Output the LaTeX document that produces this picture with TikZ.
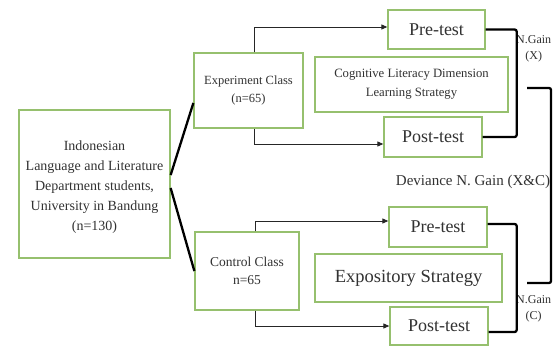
\documentclass[tikz,border=0pt]{standalone}
\usepackage{fontspec}
\setmainfont{Liberation Serif}
\usetikzlibrary{arrows.meta}
\definecolor{boxgreen}{RGB}{150,192,110}
\definecolor{txt}{RGB}{50,50,50}
\tikzset{
  gbox/.style={draw=boxgreen, line width=1.3pt, fill=white, text=txt, align=center, inner sep=0pt},
  arr/.style={draw=black!85, line width=0.9pt, -{Triangle[length=6pt,width=5pt]}},
  link/.style={draw=black!90, line width=1.1pt},
  heavy/.style={draw=black, line width=2.3pt},
  brack/.style={draw=black, line width=2.3pt, rounded corners=2pt},
  lbl/.style={text=txt, align=center, inner sep=0pt}
}
\begin{document}
\begin{tikzpicture}[x=1pt,y=-1pt]
\useasboundingbox[fill=white] (0,0) rectangle (554,349);
% boxes
\node[gbox, minimum width=151pt, minimum height=148pt, font=\fontsize{14}{20}\selectfont] (main) at (94.5,184)
  {\rule{0pt}{16pt}Indonesian\\Language and Literature\\Department students,\\University in Bandung\\(n=130)};
\node[gbox, minimum width=109pt, minimum height=75pt, font=\fontsize{12.5}{18}\selectfont] (exp) at (248.5,90.5)
  {Experiment Class\\(n=65)};
\node[gbox, minimum width=104pt, minimum height=78pt, font=\fontsize{13.5}{18}\selectfont] (ctrl) at (247,271)
  {Control Class\\n=65};
\node[gbox, minimum width=97pt, minimum height=39pt, font=\fontsize{18}{20}\selectfont] (prex) at (436.5,29.5) {Pre-test};
\node[gbox, minimum width=193pt, minimum height=55pt, font=\fontsize{12.7}{19}\selectfont] (cog) at (411.5,84.5)
  {Cognitive Literacy Dimension\\Learning Strategy};
\node[gbox, minimum width=98pt, minimum height=40pt, font=\fontsize{18}{20}\selectfont] (postx) at (433,137) {Post-test};
\node[gbox, minimum width=98pt, minimum height=40pt, font=\fontsize{18}{20}\selectfont] (prec) at (438,227) {Pre-test};
\node[gbox, minimum width=187pt, minimum height=48pt, font=\fontsize{18.5}{20}\selectfont] (expo) at (408.5,278) {Expository Strategy};
\node[gbox, minimum width=98pt, minimum height=38pt, font=\fontsize{18}{20}\selectfont] (postc) at (439,326) {Post-test};
% labels
\node[lbl, anchor=north west, font=\fontsize{12}{16}\selectfont] (gx) at (516,35) {N.Gain\\(X)};
\node[lbl, anchor=north west, font=\fontsize{12}{16}\selectfont] (gc) at (516,295) {N.Gain\\(C)};
\node[lbl, font=\fontsize{15}{16}\selectfont] (dev) at (473,182) {Deviance N. Gain (X\&C)};
% links from main box
\draw[heavy] ([yshift=9pt]main.east) -- ([yshift=-12.5pt]exp.west);
\draw[heavy] ([yshift=-4pt]main.east) -- (ctrl.west);
% arrows
\draw[arr] ([xshift=5.5pt]exp.north) |- ([yshift=2.5pt]prex.west);
\draw[arr] ([xshift=5.5pt]exp.south) |- ([yshift=-7pt]postx.west);
\draw[arr] ([xshift=8pt]ctrl.north) |- ([yshift=6pt]prec.west);
\draw[arr] ([xshift=8pt]ctrl.south) |- (postc.west);
% brackets
\draw[brack] (prex.east) -- ++(31,0) |- (postx.east);
\draw[brack] ([yshift=3pt]prec.east) -- ++(29,0) |- ([yshift=-6pt]postc.east);
\coordinate (dx) at (527,88);
\coordinate (dc) at (527,283);
\draw[brack] (dx) -- ++(24,0) |- (dc);
\end{tikzpicture}
\end{document}
